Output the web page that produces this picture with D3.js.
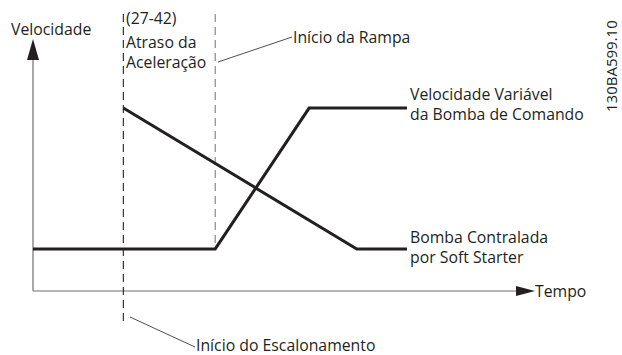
<!DOCTYPE html>
<html>
<head>
<meta charset="utf-8">
<script src="https://cdn.jsdelivr.net/npm/d3@7"></script>
<style>
  body { margin: 0; background: #fff; }
  text { font-family: "Open Sans", sans-serif; font-size: 15.8px; fill: #231f20; }
</style>
</head>
<body>
<div id="chart"></div>
<script>
// time and speed in arbitrary units
const vsdTime = [0, 3.63, 5.5, 7.45];
const vsdSpeed = [1.67, 1.67, 7.26, 7.26];
const softTime = [1.8, 6.45, 7.45];
const softSpeed = [7.26, 1.67, 1.67];

const stagingStart = 1.8;   // (27-42) start of staging
const rampStart = 3.63;     // start of ramp

var width = 622, height = 355;
var x = d3.scaleLinear().domain([0, 10]).range([33, 535]);
var y = d3.scaleLinear().domain([0, 10]).range([291, 39]);

var svg = d3.select("#chart").append("svg")
    .attr("width", width)
    .attr("height", height);

var ink = "#231f20";

// axes
svg.append("line")
    .attr("x1", x(0)).attr("y1", y(0))
    .attr("x2", x(0)).attr("y2", y(10) + 10)
    .attr("stroke", "#6d6e71").attr("stroke-width", 1.2);
svg.append("line")
    .attr("x1", x(0)).attr("y1", y(0))
    .attr("x2", x(10) - 10).attr("y2", y(0))
    .attr("stroke", "#6d6e71").attr("stroke-width", 1.2);
svg.append("path")
    .attr("d", "M" + x(0) + "," + y(10) + "l-6,21h12z")
    .attr("fill", ink);
svg.append("path")
    .attr("d", "M" + x(10) + "," + y(0) + "l-19,-5v10z")
    .attr("fill", ink);

// dashed markers
svg.append("line")
    .attr("x1", x(stagingStart)).attr("y1", 14)
    .attr("x2", x(stagingStart)).attr("y2", 324)
    .attr("stroke", "#333").attr("stroke-width", 1.2)
    .attr("stroke-dasharray", "8,5");
svg.append("line")
    .attr("x1", x(rampStart)).attr("y1", 14)
    .attr("x2", x(rampStart)).attr("y2", y(vsdSpeed[0]))
    .attr("stroke", "#888").attr("stroke-width", 1.2)
    .attr("stroke-dasharray", "8,5");

// series
var line = d3.line()
    .x(function(d) { return x(d[0]); })
    .y(function(d) { return y(d[1]); });

svg.append("path")
    .attr("d", line(d3.zip(vsdTime, vsdSpeed)))
    .attr("fill", "none").attr("stroke", ink)
    .attr("stroke-width", 3).attr("stroke-linejoin", "miter");
svg.append("path")
    .attr("d", line(d3.zip(softTime, softSpeed)))
    .attr("fill", "none").attr("stroke", ink)
    .attr("stroke-width", 3).attr("stroke-linejoin", "miter");

// leader lines
svg.append("line")
    .attr("x1", 218).attr("y1", 62).attr("x2", 292).attr("y2", 37)
    .attr("stroke", ink).attr("stroke-width", 0.8);
svg.append("line")
    .attr("x1", 130).attr("y1", 317).attr("x2", 195).attr("y2", 347)
    .attr("stroke", ink).attr("stroke-width", 0.8);

// labels
function label(txt, px, py) {
  svg.append("text").attr("x", px).attr("y", py).text(txt);
}
label("Velocidade", 11, 35);
label("(27-42)", 126, 24);
label("Atraso da", 126, 48);
label("Aceleração", 126, 68);
label("Início da Rampa", 293, 43);
label("Velocidade Variável", 410, 100);
label("da Bomba de Comando", 410, 120);
label("Bomba Contralada", 410, 243);
label("por Soft Starter", 410, 263);
label("Tempo", 535, 297);
label("Início do Escalonamento", 196, 351);

svg.append("text")
    .attr("transform", "translate(617,112)rotate(-90)")
    .style("font-size", "15px")
    .text("130BA599.10");
</script>
</body>
</html>
